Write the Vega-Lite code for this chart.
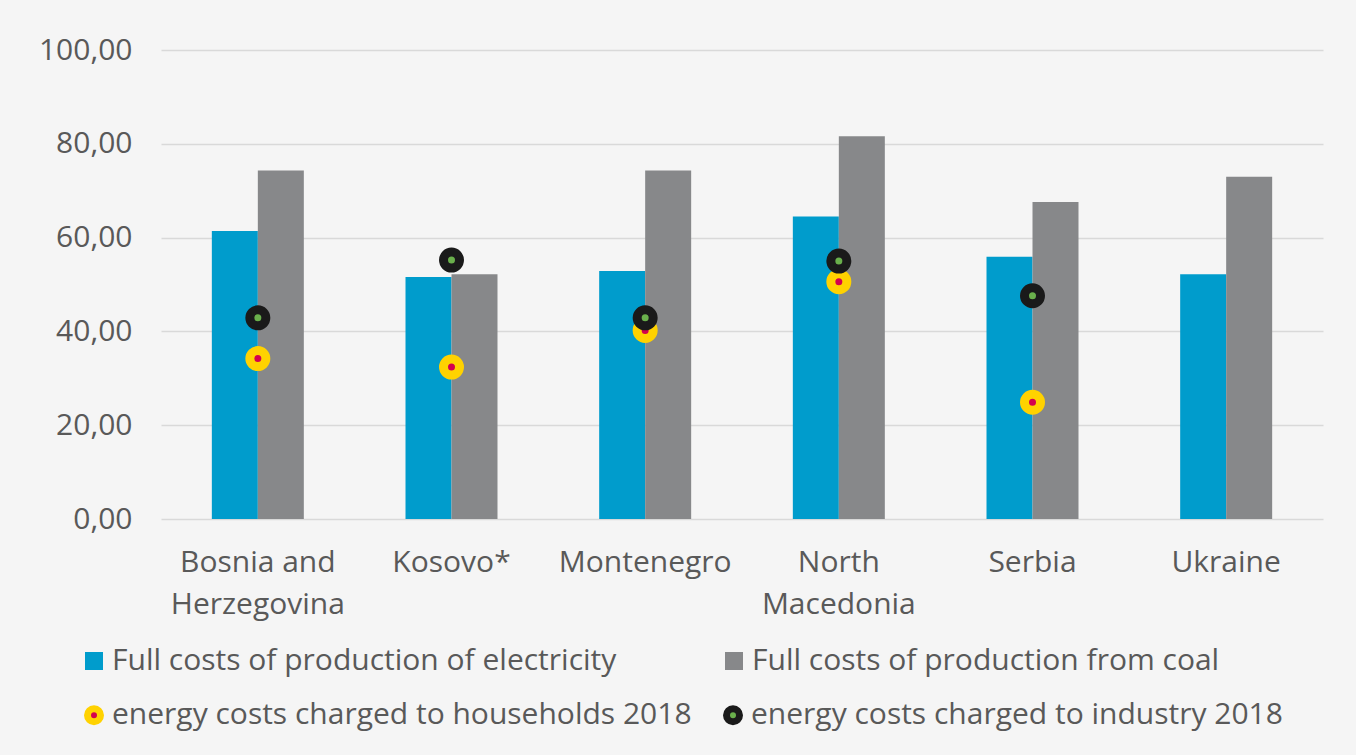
{
  "$schema": "https://vega.github.io/schema/vega-lite/v6.json",
  "width": 1162,
  "height": 469,
  "autosize": {"type": "none"},
  "padding": {"left": 161, "top": 50, "right": 33, "bottom": 236},
  "background": "#f5f5f5",
  "config": {
    "view": {"stroke": null},
    "locale": {"number": {"decimal": ",", "thousands": ".", "grouping": [3], "currency": ["", " €"]}},
    "font": "Open Sans"
  },
  "data": {
    "values": [
      {"country": "Bosnia and Herzegovina", "series": "Full costs of production of electricity", "value": 61.4},
      {"country": "Bosnia and Herzegovina", "series": "Full costs of production from coal", "value": 74.3},
      {"country": "Bosnia and Herzegovina", "series": "energy costs charged to households 2018", "value": 34.2},
      {"country": "Bosnia and Herzegovina", "series": "energy costs charged to industry 2018", "value": 42.9},
      {"country": "Kosovo*", "series": "Full costs of production of electricity", "value": 51.6},
      {"country": "Kosovo*", "series": "Full costs of production from coal", "value": 52.2},
      {"country": "Kosovo*", "series": "energy costs charged to households 2018", "value": 32.4},
      {"country": "Kosovo*", "series": "energy costs charged to industry 2018", "value": 55.2},
      {"country": "Montenegro", "series": "Full costs of production of electricity", "value": 52.9},
      {"country": "Montenegro", "series": "Full costs of production from coal", "value": 74.3},
      {"country": "Montenegro", "series": "energy costs charged to households 2018", "value": 40.2},
      {"country": "Montenegro", "series": "energy costs charged to industry 2018", "value": 42.9},
      {"country": "North Macedonia", "series": "Full costs of production of electricity", "value": 64.5},
      {"country": "North Macedonia", "series": "Full costs of production from coal", "value": 81.6},
      {"country": "North Macedonia", "series": "energy costs charged to households 2018", "value": 50.6},
      {"country": "North Macedonia", "series": "energy costs charged to industry 2018", "value": 55.0},
      {"country": "Serbia", "series": "Full costs of production of electricity", "value": 55.9},
      {"country": "Serbia", "series": "Full costs of production from coal", "value": 67.6},
      {"country": "Serbia", "series": "energy costs charged to households 2018", "value": 24.9},
      {"country": "Serbia", "series": "energy costs charged to industry 2018", "value": 47.6},
      {"country": "Ukraine", "series": "Full costs of production of electricity", "value": 52.2},
      {"country": "Ukraine", "series": "Full costs of production from coal", "value": 73.0}
    ]
  },
  "encoding": {
    "x": {
      "field": "country", "type": "nominal", "sort": null,
      "scale": {"paddingInner": 0.525, "paddingOuter": 0.2625},
      "axis": {
        "title": null, "labelAngle": 0, "domain": false, "ticks": false, "tickSize": 0,
        "labelFontSize": 30, "labelColor": "#595959", "labelFont": "Open Sans",
        "labelPadding": 28, "labelLineHeight": 42, "labelLimit": 400,
        "labelExpr": "datum.value == 'Bosnia and Herzegovina' ? ['Bosnia and', 'Herzegovina'] : datum.value == 'North Macedonia' ? ['North', 'Macedonia'] : datum.label"
      }
    },
    "y": {
      "field": "value", "type": "quantitative",
      "scale": {"domain": [0, 100], "nice": false},
      "axis": {
        "title": null, "values": [0, 20, 40, 60, 80, 100], "format": ".2f",
        "domain": false, "ticks": false, "tickSize": 0,
        "labelFontSize": 30, "labelColor": "#595959", "labelFont": "Open Sans",
        "labelPadding": 29, "gridColor": "#d9d9d9", "gridWidth": 1.5
      }
    }
  },
  "layer": [
    {
      "transform": [{"filter": "indexof(datum.series, 'Full') == 0"}],
      "mark": {"type": "bar"},
      "encoding": {
        "xOffset": {"field": "series", "type": "nominal", "sort": ["Full costs of production of electricity", "Full costs of production from coal"]},
        "color": {
          "field": "series", "type": "nominal",
          "scale": {
            "domain": ["Full costs of production of electricity", "Full costs of production from coal"],
            "range": ["#009ccc", "#87888a"]
          },
          "legend": {
            "title": null, "orient": "none", "legendX": -82, "legendY": 596, "padding": 0,
            "direction": "horizontal", "columns": 2, "columnPadding": 102,
            "labelFontSize": 30, "labelFont": "Open Sans", "labelColor": "#595959", "labelLimit": 800,
            "labelOffset": 3, "symbolType": "square", "symbolSize": 324, "symbolStrokeWidth": 0
          }
        }
      }
    },
    {
      "transform": [{"filter": "indexof(datum.series, 'energy') == 0"}],
      "mark": {"type": "point", "filled": true, "size": 256, "strokeWidth": 9, "opacity": 1},
      "encoding": {
        "fill": {
          "field": "series", "type": "nominal",
          "scale": {"domain": ["energy costs charged to households 2018", "energy costs charged to industry 2018"], "range": ["#d4004f", "#6ab04c"]},
          "legend": {
            "title": null, "orient": "none", "legendX": -82, "legendY": 650, "padding": 0,
            "direction": "horizontal", "columns": 2, "columnPadding": 20,
            "labelFontSize": 30, "labelFont": "Open Sans", "labelColor": "#595959", "labelLimit": 800,
            "labelOffset": 3, "symbolType": "circle", "symbolSize": 169, "symbolStrokeWidth": 7
          }
        },
        "stroke": {
          "field": "series", "type": "nominal",
          "scale": {"domain": ["energy costs charged to households 2018", "energy costs charged to industry 2018"], "range": ["#ffd200", "#1a1a1a"]},
          "legend": {
            "title": null, "orient": "none", "legendX": -82, "legendY": 650, "padding": 0,
            "direction": "horizontal", "columns": 2, "columnPadding": 20,
            "labelFontSize": 30, "labelFont": "Open Sans", "labelColor": "#595959", "labelLimit": 800,
            "labelOffset": 3, "symbolType": "circle", "symbolSize": 169, "symbolStrokeWidth": 7
          }
        }
      }
    }
  ]
}
